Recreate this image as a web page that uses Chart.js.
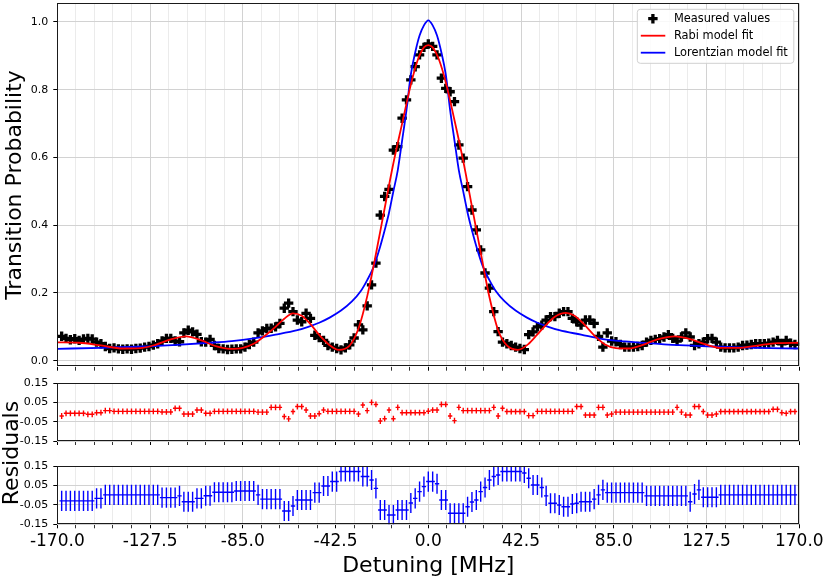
<!DOCTYPE html>
<html>
<head>
<meta charset="utf-8">
<title>Transition probability vs detuning</title>
<script src="https://cdn.jsdelivr.net/npm/chart.js@4.4.1/dist/chart.umd.min.js"></script>
<style>
  html, body { margin: 0; padding: 0; background: #fff; }
  #figure { position: relative; width: 830px; height: 581px; font-family: 'DejaVu Sans', sans-serif; }
  .panel { position: absolute; left: 0; width: 830px; }
  #mainPanel { top: 0; height: 372px; }
  #rabiPanel { top: 372px; height: 74px; }
  #lorentzPanel { top: 446px; height: 135px; }
  #residualsLabel {
    position: absolute; left: -89.5px; top: 440px; width: 200px;
    line-height: 26px; font-size: 22px; text-align: center; color: #000;
    transform: rotate(-90deg);
  }
</style>
</head>
<body>
<div id="figure">
  <div class="panel" id="mainPanel"><canvas id="mainChart"></canvas></div>
  <div class="panel" id="rabiPanel"><canvas id="rabiChart"></canvas></div>
  <div class="panel" id="lorentzPanel"><canvas id="lorentzChart"></canvas></div>
  <div id="residualsLabel">Residuals</div>
</div>
<script>
// Detuning of each measurement [MHz]
const detuning = [
  -168, -166, -164, -162, -160, -158, -156, -154, -152, -150,
  -148, -146, -144, -142, -140, -138, -136, -134, -132, -130,
  -128, -126, -124, -122, -120, -118, -116, -114, -112, -110,
  -108, -106, -104, -102, -100, -98, -96, -94, -92, -90,
  -88, -86, -84, -82, -80, -78, -76, -74, -72, -70,
  -68, -66, -64, -62, -60, -58, -56, -54, -52, -50,
  -48, -46, -44, -42, -40, -38, -36, -34, -32, -30,
  -28, -26, -24, -22, -20, -18, -16, -14, -12, -10,
  -8, -6, -4, -2, 0, 2, 4, 6, 8, 10,
  12, 14, 16, 18, 20, 22, 24, 26, 28, 30,
  32, 34, 36, 38, 40, 42, 44, 46, 48, 50,
  52, 54, 56, 58, 60, 62, 64, 66, 68, 70,
  72, 74, 76, 78, 80, 82, 84, 86, 88, 90,
  92, 94, 96, 98, 100, 102, 104, 106, 108, 110,
  112, 114, 116, 118, 120, 122, 124, 126, 128, 130,
  132, 134, 136, 138, 140, 142, 144, 146, 148, 150,
  152, 154, 156, 158, 160, 162, 164, 166, 168
];

// Measured transition probability
const measured = [
  0.072, 0.066, 0.062, 0.065, 0.060, 0.064, 0.066, 0.064, 0.055, 0.050,
  0.042, 0.036, 0.038, 0.035, 0.034, 0.035, 0.034, 0.036, 0.037, 0.040,
  0.042, 0.046, 0.050, 0.058, 0.066, 0.066, 0.058, 0.056, 0.082, 0.090,
  0.085, 0.078, 0.056, 0.055, 0.063, 0.045, 0.036, 0.035, 0.033, 0.034,
  0.035, 0.035, 0.040, 0.048, 0.055, 0.082, 0.088, 0.095, 0.096, 0.100,
  0.110, 0.155, 0.170, 0.145, 0.120, 0.115, 0.140, 0.125, 0.075, 0.068,
  0.060, 0.045, 0.040, 0.036, 0.032, 0.038, 0.047, 0.067, 0.106, 0.091,
  0.162, 0.224, 0.288, 0.430, 0.485, 0.506, 0.622, 0.632, 0.716, 0.770,
  0.829, 0.868, 0.903, 0.925, 0.935, 0.928, 0.903, 0.834, 0.804, 0.794,
  0.765, 0.637, 0.598, 0.514, 0.445, 0.386, 0.327, 0.259, 0.214, 0.145,
  0.086, 0.055, 0.050, 0.045, 0.040, 0.036, 0.033, 0.077, 0.085, 0.100,
  0.105, 0.120, 0.130, 0.130, 0.140, 0.145, 0.145, 0.125, 0.115, 0.105,
  0.120, 0.120, 0.110, 0.072, 0.040, 0.082, 0.058, 0.056, 0.048, 0.040,
  0.040, 0.040, 0.042, 0.045, 0.055, 0.060, 0.063, 0.065, 0.070, 0.077,
  0.066, 0.058, 0.070, 0.082, 0.070, 0.045, 0.050, 0.055, 0.065, 0.066,
  0.055, 0.040, 0.038, 0.038, 0.038, 0.040, 0.045, 0.046, 0.048, 0.050,
  0.050, 0.050, 0.052, 0.055, 0.060, 0.050, 0.060, 0.052, 0.048
];

// Residuals (fit - measured)
const rabiResidual = [
  -0.020, -0.006, -0.006, -0.006, -0.006, -0.006, -0.011, -0.011, -0.003, -0.003,
  0.008, 0.008, 0.004, 0.004, 0.004, 0.004, 0.004, 0.004, 0.004, 0.004,
  0.004, 0.004, 0.004, 0.001, 0.001, 0.001, 0.020, 0.020, -0.010, -0.010,
  -0.010, 0.011, 0.011, -0.006, -0.006, 0.004, 0.004, 0.004, 0.004, 0.004,
  0.004, 0.004, 0.004, 0.004, 0.004, 0.000, 0.000, 0.000, 0.025, 0.025,
  0.025, -0.023, -0.035, 0.003, 0.029, 0.029, 0.011, -0.020, -0.020, -0.008,
  0.011, 0.004, 0.004, 0.004, 0.004, 0.004, 0.004, 0.004, -0.010, 0.037,
  0.008, 0.051, 0.040, -0.046, -0.034, 0.011, -0.034, 0.025, -0.003, -0.003,
  -0.003, -0.003, -0.003, -0.003, 0.005, 0.011, 0.011, 0.040, 0.040, -0.020,
  -0.044, 0.025, 0.008, 0.008, 0.008, 0.008, 0.008, 0.008, 0.008, 0.025,
  -0.020, 0.020, 0.003, 0.003, 0.003, 0.003, 0.003, -0.018, -0.018, 0.004,
  0.004, 0.004, 0.004, 0.004, 0.004, 0.004, 0.004, 0.004, 0.029, 0.029,
  -0.015, -0.015, -0.015, 0.025, 0.025, -0.015, -0.010, 0.000, 0.000, 0.000,
  0.000, 0.000, 0.000, 0.000, 0.000, 0.000, 0.000, 0.000, 0.000, 0.000,
  0.000, 0.025, 0.000, -0.015, -0.015, 0.029, 0.029, 0.003, -0.015, -0.015,
  -0.010, 0.003, 0.003, 0.003, 0.003, 0.003, 0.003, 0.003, 0.003, 0.003,
  0.003, 0.003, 0.003, 0.015, 0.015, -0.003, -0.006, 0.003, 0.003
];

const lorentzResidual = [
  -0.029, -0.029, -0.029, -0.029, -0.029, -0.029, -0.029, -0.029, -0.016, -0.016,
  0.002, 0.002, 0.002, 0.002, 0.002, 0.002, 0.002, 0.002, 0.002, 0.002,
  0.002, 0.002, 0.002, -0.012, -0.012, -0.012, -0.012, -0.003, -0.033, -0.033,
  -0.033, -0.016, -0.016, -0.002, -0.002, 0.016, 0.016, 0.016, 0.016, 0.016,
  0.022, 0.022, 0.022, 0.022, 0.022, 0.002, -0.020, -0.020, -0.020, -0.020,
  -0.020, -0.081, -0.081, -0.055, -0.024, -0.024, -0.024, -0.024, 0.014, 0.014,
  0.048, 0.048, 0.071, 0.071, 0.123, 0.123, 0.123, 0.123, 0.123, 0.097,
  0.097, 0.079, 0.036, -0.076, -0.076, -0.102, -0.102, -0.076, -0.076, -0.076,
  -0.040, -0.016, 0.019, 0.045, 0.071, 0.071, 0.060, -0.024, -0.024, -0.093,
  -0.093, -0.093, -0.093, -0.059, -0.035, -0.024, 0.019, 0.040, 0.079, 0.097,
  0.105, 0.123, 0.123, 0.123, 0.123, 0.123, 0.115, 0.088, 0.053, 0.053,
  0.040, -0.003, -0.041, -0.041, -0.050, -0.059, -0.059, -0.045, -0.041, -0.033,
  -0.033, -0.033, -0.020, 0.002, 0.028, 0.014, 0.014, 0.014, 0.014, 0.014,
  0.014, 0.014, 0.014, 0.014, -0.003, -0.003, -0.003, -0.003, -0.003, -0.003,
  -0.003, -0.003, -0.003, -0.003, -0.033, 0.007, 0.028, -0.010, -0.010, -0.010,
  -0.010, 0.002, 0.002, 0.002, 0.002, 0.002, 0.002, 0.002, 0.002, 0.002,
  0.002, 0.002, 0.002, 0.002, 0.002, 0.002, 0.002, 0.002, 0.002
];

// Fit curves
const rabiFitDetuning = [
  -170, -160, -150, -140, -132, -125, -118, -111, -104, -97, -91, -85, -80,
  -75, -70, -66, -62, -58, -54, -50, -46, -41, -36, -32, -28, -24, -20,
  -16, -12, -8, -5, -2, 0, 2, 5, 8, 12, 16, 20, 24, 28, 32, 36, 41, 46,
  50, 54, 58, 63, 67, 71, 76, 81, 86, 92, 98, 105, 113, 120, 127, 134,
  142, 150, 160, 170
];
const rabiFitValue = [
  0.054, 0.053, 0.045, 0.036, 0.037, 0.047, 0.063, 0.072, 0.060, 0.042, 0.035, 0.038, 0.050,
  0.073, 0.100, 0.124, 0.140, 0.133, 0.108, 0.076, 0.050, 0.032, 0.045, 0.095, 0.190, 0.315, 0.450,
  0.583, 0.700, 0.815, 0.885, 0.925, 0.932, 0.925, 0.887, 0.822, 0.710, 0.590, 0.455, 0.320, 0.188, 0.090, 0.045, 0.032, 0.050,
  0.078, 0.106, 0.130, 0.141, 0.133, 0.110, 0.075, 0.048, 0.037, 0.036, 0.046, 0.063, 0.072, 0.064, 0.048, 0.038,
  0.038, 0.044, 0.052, 0.053
];
const lorentzFitDetuning = [
  -170, -150, -130, -115, -100, -90, -80, -70, -60, -55, -50, -45, -40, -35,
  -31, -28, -25, -22, -20, -18, -16, -14, -12, -10, -8, -6, -4, -2, 0,
  2, 4, 6, 8, 10, 12, 14, 16, 18, 20, 22, 25, 28, 31, 35, 40, 45, 50,
  55, 60, 70, 80, 90, 100, 115, 130, 150, 170
];
const lorentzFitValue = [
  0.035, 0.038, 0.042, 0.047, 0.053, 0.058, 0.066, 0.077, 0.090, 0.100, 0.112, 0.128, 0.148, 0.175,
  0.205, 0.238, 0.278, 0.338, 0.385, 0.437, 0.500, 0.562, 0.650, 0.740, 0.845, 0.910, 0.960, 0.990, 1.005,
  0.990, 0.960, 0.910, 0.845, 0.740, 0.650, 0.562, 0.500, 0.437, 0.385, 0.338, 0.278, 0.238, 0.205, 0.175, 0.148, 0.128, 0.112,
  0.100, 0.090, 0.077, 0.064, 0.057, 0.052, 0.046, 0.042, 0.038, 0.036
];

// Error bar half sizes
const rabiErrorY = 0.015;
const lorentzErrorY = 0.052;
const detuningHalfStep = 1;

// Axis ticks
const detuningTicks = [
  -170, -161.5, -153, -144.5, -136, -127.5, -119, -110.5, -102, -93.5,
  -85, -76.5, -68, -59.5, -51, -42.5, -34, -25.5, -17, -8.5,
  0, 8.5, 17, 25.5, 34, 42.5, 51, 59.5, 68, 76.5,
  85, 93.5, 102, 110.5, 119, 127.5, 136, 144.5, 153, 161.5, 170
];
const detuningLabels = [-170, -127.5, -85, -42.5, 0, 42.5, 85, 127.5, 170];
const probabilityTicks = [0, 0.2, 0.4, 0.6, 0.8, 1.0];
const residualTicks = [-0.15, -0.1, -0.05, 0, 0.05, 0.1, 0.15];
const residualLabels = [-0.15, -0.05, 0.05, 0.15];

const FONT = "'DejaVu Sans', sans-serif";
const GRID_MAJOR = '#d2d2d2';
const GRID_MINOR = '#ebebeb';
Chart.defaults.font.family = FONT;
Chart.defaults.color = '#000';

const pairs = (xs, ys) => xs.map((x, i) => ({ x: x, y: ys[i] }));

// plot box
const framePlugin = {
  id: 'frame',
  afterDraw(chart) {
    const { ctx, chartArea: a } = chart;
    ctx.save();
    ctx.strokeStyle = '#1a1a1a';
    ctx.lineWidth = 1;
    ctx.strokeRect(Math.round(a.left) + 0.5, Math.round(a.top) + 0.5,
      Math.round(a.right - a.left) - 1, Math.round(a.bottom - a.top) - 1);
    ctx.restore();
  }
};

// x/y error bars for residual datasets
const errorBarPlugin = {
  id: 'errorBars',
  afterDatasetsDraw(chart) {
    const { ctx, chartArea: a, scales: { x, y } } = chart;
    ctx.save();
    ctx.beginPath();
    ctx.rect(a.left, a.top, a.right - a.left, a.bottom - a.top);
    ctx.clip();
    chart.data.datasets.forEach(ds => {
      if (!ds.errorY) return;
      ctx.strokeStyle = ds.borderColor;
      ctx.lineWidth = ds.borderWidth;
      ctx.beginPath();
      ds.data.forEach(p => {
        const px = x.getPixelForValue(p.x);
        const py = y.getPixelForValue(p.y);
        ctx.moveTo(px, y.getPixelForValue(p.y - ds.errorY));
        ctx.lineTo(px, y.getPixelForValue(p.y + ds.errorY));
        ctx.moveTo(x.getPixelForValue(p.x - ds.errorX), py);
        ctx.lineTo(x.getPixelForValue(p.x + ds.errorX), py);
      });
      ctx.stroke();
    });
    ctx.restore();
  }
};

// legend box in the upper right corner
const legendPlugin = {
  id: 'cornerLegend',
  afterDraw(chart) {
    const { ctx, chartArea: a } = chart;
    const w = 156.5, h = 54;
    const left = a.right - 5.5 - w, top = a.top + 6;
    ctx.save();
    ctx.beginPath();
    ctx.roundRect(left, top, w, h, 3);
    ctx.fillStyle = 'rgba(255,255,255,0.85)';
    ctx.fill();
    ctx.strokeStyle = '#d0d0d0';
    ctx.lineWidth = 1;
    ctx.stroke();

    ctx.font = '11.4px ' + FONT;
    ctx.textBaseline = 'middle';
    chart.data.datasets.forEach((ds, i) => {
      const rowY = top + 9.4 + i * 17;
      if (ds.showLine) {
        ctx.strokeStyle = ds.borderColor;
        ctx.lineWidth = ds.borderWidth;
        ctx.beginPath();
        ctx.moveTo(left + 3.5, rowY);
        ctx.lineTo(left + 28, rowY);
        ctx.stroke();
      } else {
        ctx.strokeStyle = ds.pointBorderColor;
        ctx.fillStyle = ds.pointBorderColor;
        ctx.lineWidth = ds.pointBorderWidth;
        Chart.helpers.drawPoint(ctx, {
          pointStyle: 'cross', radius: ds.pointRadius, borderWidth: ds.pointBorderWidth
        }, left + 15.6, rowY);
      }
      ctx.fillStyle = '#000';
      ctx.fillText(ds.label, left + 36.6, rowY);
    });
    ctx.restore();
  }
};

function detuningAxis(height, showLabels) {
  return {
    type: 'linear',
    min: -170,
    max: 170,
    afterBuildTicks: scale => { scale.ticks = detuningTicks.map(v => ({ value: v })); },
    afterFit: scale => { scale.height = height; scale.paddingLeft = 0; scale.paddingRight = 0; },
    border: { display: false },
    grid: {
      color: c => detuningLabels.includes(c.tick.value) ? GRID_MAJOR : GRID_MINOR,
      tickColor: '#000',
      tickWidth: c => detuningLabels.includes(c.tick.value) ? 1 : 0.8,
      tickLength: 4
    },
    ticks: {
      display: showLabels,
      autoSkip: false,
      maxRotation: 0,
      padding: 3.5,
      font: { size: 17 },
      callback: v => detuningLabels.includes(v) ? v.toFixed(1) : ''
    },
    title: {
      display: showLabels,
      text: 'Detuning [MHz]',
      font: { size: 22 },
      padding: { top: 0, bottom: 2 }
    }
  };
}

function residualAxis() {
  return {
    type: 'linear',
    min: -0.15,
    max: 0.15,
    afterBuildTicks: scale => { scale.ticks = residualTicks.map(v => ({ value: v })); },
    afterFit: scale => { scale.width = 57.3; scale.paddingTop = 0; scale.paddingBottom = 0; },
    border: { display: false },
    grid: {
      color: c => residualLabels.includes(c.tick.value) ? GRID_MAJOR : GRID_MINOR,
      tickColor: '#000',
      tickLength: 4
    },
    ticks: {
      padding: 5,
      font: { size: 11 },
      callback: v => residualLabels.includes(v) ? v.toFixed(2) : ''
    }
  };
}

const commonOptions = {
  responsive: true,
  maintainAspectRatio: false,
  animation: false,
  events: [],
  plugins: { legend: { display: false }, tooltip: { enabled: false } }
};

// Main panel
new Chart(document.getElementById('mainChart'), {
  type: 'scatter',
  data: {
    datasets: [
      {
        label: 'Measured values',
        data: pairs(detuning, measured),
        pointStyle: 'cross',
        pointRadius: 4.7,
        pointBorderWidth: 3.3,
        pointBorderColor: '#000',
        pointBackgroundColor: '#000',
        borderColor: '#000',
        showLine: false,
        order: 3
      },
      {
        label: 'Rabi model fit',
        data: pairs(rabiFitDetuning, rabiFitValue),
        showLine: true,
        borderColor: '#ff0000',
        borderWidth: 1.8,
        pointRadius: 0,
        cubicInterpolationMode: 'monotone',
        order: 1
      },
      {
        label: 'Lorentzian model fit',
        data: pairs(lorentzFitDetuning, lorentzFitValue),
        showLine: true,
        borderColor: '#0000ff',
        borderWidth: 1.8,
        pointRadius: 0,
        cubicInterpolationMode: 'monotone',
        order: 2
      }
    ]
  },
  options: Object.assign({}, commonOptions, {
    layout: { autoPadding: false, padding: { left: 0, right: 30.7, top: 3.3, bottom: 0 } },
    scales: {
      x: detuningAxis(5.3, false),
      y: {
        type: 'linear',
        min: -0.0177,
        max: 1.0552,
        afterBuildTicks: scale => { scale.ticks = probabilityTicks.map(v => ({ value: v })); },
        afterFit: scale => { scale.width = 57.3; scale.paddingTop = 0; scale.paddingBottom = 0; },
        border: { display: false },
        grid: { color: GRID_MAJOR, tickColor: '#000', tickLength: 4 },
        ticks: { padding: 5, font: { size: 11 }, callback: v => v.toFixed(1) },
        title: {
          display: true,
          text: 'Transition Probability',
          font: { size: 22 },
          padding: { top: 2, bottom: 0 }
        }
      }
    }
  }),
  plugins: [framePlugin, legendPlugin]
});

function residualChart(canvasId, values, color, errorY, topPad, xHeight, showLabels) {
  return new Chart(document.getElementById(canvasId), {
    type: 'scatter',
    data: {
      datasets: [{
        data: pairs(detuning, values),
        borderColor: color,
        borderWidth: 1.4,
        pointRadius: 0,
        showLine: false,
        errorY: errorY,
        errorX: detuningHalfStep
      }]
    },
    options: Object.assign({}, commonOptions, {
      layout: { autoPadding: false, padding: { left: 0, right: 30.7, top: topPad, bottom: 0 } },
      scales: {
        x: detuningAxis(xHeight, showLabels),
        y: residualAxis()
      }
    }),
    plugins: [framePlugin, errorBarPlugin]
  });
}

residualChart('rabiChart', rabiResidual, '#ff0000', rabiErrorY, 11.3, 5, false);
residualChart('lorentzChart', lorentzResidual, '#0000ff', lorentzErrorY, 20.3, 56.7, true);
</script>
</body>
</html>
